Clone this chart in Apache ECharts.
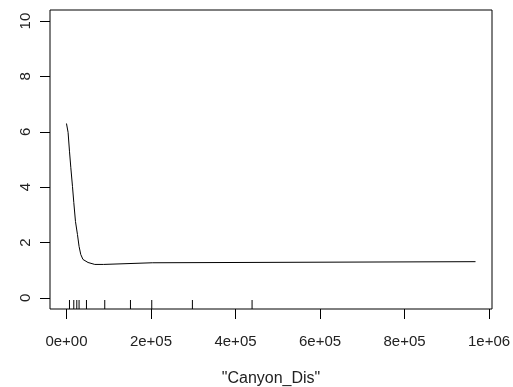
<!DOCTYPE html>
<html>
<head>
<meta charset="utf-8">
<script src="https://cdn.jsdelivr.net/npm/echarts@6/dist/echarts.min.js"></script>
<style>
  html, body { margin: 0; padding: 0; background: #fff; }
  #chart { width: 513px; height: 387px; }
</style>
</head>
<body>
<div id="chart"></div>
<script>
// partial dependence curve
const canyonDis = [0, 3800, 7100, 10200, 14200, 17300, 21300, 26000, 29800, 33800, 39000, 51000, 67000, 88000, 89000, 203000, 204000, 968000]
const fitted = [6.3, 5.98, 5.3, 4.72, 4.03, 3.45, 2.76, 2.29, 1.86, 1.57, 1.39, 1.28, 1.21, 1.21, 1.27, 1.27, 1.31, 1.31]
// rug (deciles of Canyon_Dis)
const rugValues = [7100, 17300, 24400, 29800, 47300, 90600, 151400, 201800, 298000, 439200]
const xTicks = [0, 200000, 400000, 600000, 800000, 1000000]
const yTicks = [0, 2, 4, 6, 8, 10]

const X_MIN = -39000, X_MAX = 1007000
const Y_MIN = -0.4, Y_MAX = 10.4

// R style sci labels: 2e+05, 1e+06
function sci(v) {
  if (v === 0) return '0e+00'
  const e = Math.floor(Math.log10(v))
  const m = v / Math.pow(10, e)
  return m + 'e+' + String(e).padStart(2, '0')
}

const myChart = echarts.init(document.getElementById('chart'))
myChart.setOption({
  animation: false,
  grid: {
    left: 50, right: 21, top: 10, bottom: 78,
    outerBoundsMode: 'none',
    containLabel: false,
    show: true, borderColor: '#000', borderWidth: 1, backgroundColor: 'transparent'
  },
  xAxis: {
    type: 'value',
    min: X_MIN, max: X_MAX,
    name: '"Canyon_Dis"',
    nameLocation: 'middle',
    nameGap: 62,
    nameTextStyle: { fontFamily: 'Liberation Sans', fontSize: 16, color: '#222' },
    splitLine: { show: false },
    axisLine: { show: false, onZero: false },
    axisTick: { show: true, length: 10, customValues: xTicks, lineStyle: { color: '#000' } },
    axisLabel: {
      customValues: xTicks,
      margin: 25,
      fontFamily: 'Liberation Sans', fontSize: 15, color: '#222',
      formatter: sci
    }
  },
  yAxis: {
    type: 'value',
    min: Y_MIN, max: Y_MAX,
    splitLine: { show: false },
    axisLine: { show: false, onZero: false },
    axisTick: { show: true, length: 10, customValues: yTicks, lineStyle: { color: '#000' } },
    axisLabel: {
      customValues: yTicks,
      rotate: 90,
      margin: 17,
      fontFamily: 'Liberation Sans', fontSize: 15, color: '#222'
    }
  },
  series: [
    {
      type: 'line',
      data: canyonDis.map((x, i) => [x, fitted[i]]),
      showSymbol: false,
      lineStyle: { color: '#000', width: 1 },
      silent: true
    },
    {
      type: 'custom',
      data: rugValues.map(v => [v]),
      renderItem(params, api) {
        const p = api.coord([api.value(0), Y_MIN])
        return {
          type: 'line',
          shape: { x1: p[0], y1: p[1], x2: p[0], y2: p[1] - 9 },
          style: { stroke: '#000', lineWidth: 1 }
        }
      },
      silent: true
    }
  ]
})
</script>
</body>
</html>
